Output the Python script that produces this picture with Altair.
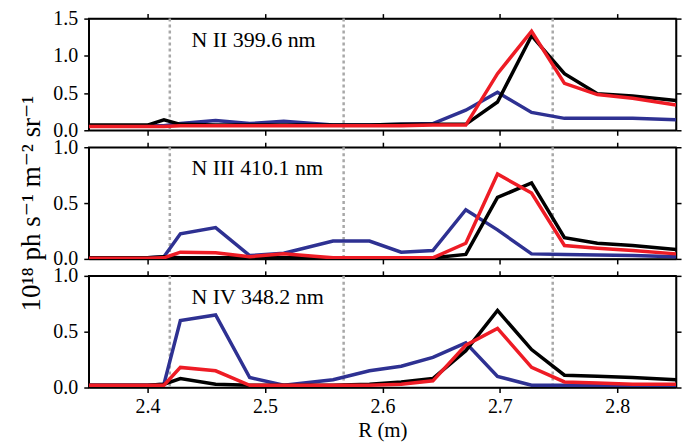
import altair as alt
import pandas as pd

# Major radius grid of the chords (m)
R = [2.35, 2.40, 2.414, 2.428, 2.458, 2.487, 2.516, 2.558, 2.589, 2.616,
     2.643, 2.671, 2.698, 2.727, 2.755, 2.783, 2.813, 2.85]

# Panel 1: N II 399.6 nm
nii_black = [0.07, 0.07, 0.14, 0.08, 0.07, 0.07, 0.07, 0.07, 0.07, 0.08,
             0.08, 0.08, 0.38, 1.27, 0.76, 0.49, 0.46, 0.40]
nii_red = [0.05, 0.05, 0.05, 0.06, 0.06, 0.06, 0.06, 0.06, 0.06, 0.06,
           0.07, 0.07, 0.76, 1.33, 0.63, 0.48, 0.43, 0.34]
nii_blue = [0.06, 0.06, 0.06, 0.09, 0.13, 0.09, 0.12, 0.07, 0.07, 0.08,
            0.09, 0.27, 0.51, 0.24, 0.16, 0.16, 0.16, 0.14]

# Panel 2: N III 410.1 nm
niii_black = [0.01, 0.01, 0.02, 0.01, 0.01, 0.01, 0.01, 0.01, 0.01, 0.01,
              0.01, 0.04, 0.55, 0.68, 0.19, 0.14, 0.12, 0.085]
niii_red = [0.005, 0.005, 0.01, 0.06, 0.055, 0.02, 0.045, 0.01, 0.01, 0.01,
            0.01, 0.14, 0.76, 0.59, 0.12, 0.095, 0.075, 0.045]
niii_blue = [0.01, 0.01, 0.02, 0.225, 0.28, 0.03, 0.05, 0.16, 0.16, 0.06,
             0.075, 0.44, 0.26, 0.045, 0.04, 0.035, 0.03, 0.02]

# Panel 3: N IV 348.2 nm
niv_black = [0.02, 0.02, 0.03, 0.08, 0.03, 0.02, 0.02, 0.02, 0.03, 0.05,
             0.08, 0.33, 0.69, 0.34, 0.11, 0.10, 0.09, 0.07]
niv_red = [0.02, 0.02, 0.02, 0.18, 0.15, 0.02, 0.02, 0.02, 0.02, 0.03,
           0.06, 0.38, 0.53, 0.18, 0.05, 0.04, 0.03, 0.03]
niv_blue = [0.02, 0.02, 0.03, 0.60, 0.65, 0.09, 0.02, 0.07, 0.15, 0.19,
            0.27, 0.40, 0.10, 0.02, 0.02, 0.02, 0.02, 0.02]

panel_labels = ["N II 399.6 nm", "N III 410.1 nm", "N IV 348.2 nm"]
panel_ymax = [1.5, 1.0, 1.0]
panel_yticks = [[0.0, 0.5, 1.0, 1.5], [0.0, 0.5, 1.0], [0.0, 0.5, 1.0]]
x_ticks = [2.4, 2.5, 2.6, 2.7, 2.8]
x_domain = [2.35, 2.85]
separatrix_R = [2.419, 2.567, 2.745]

series_names = ["blue case", "black case", "red case"]  # drawing order
series_colors = ["#2e3192", "#000000", "#ee1c25"]
panel_series = [
    [nii_blue, nii_black, nii_red],
    [niii_blue, niii_black, niii_red],
    [niv_blue, niv_black, niv_red],
]

FONT = "'Liberation Serif', 'Times New Roman', 'DejaVu Serif', serif"
W, H = 589, 112


def make_panel(i):
    xs = alt.Scale(domain=x_domain, nice=False, zero=False)
    ys = alt.Scale(domain=[0, panel_ymax[i]], nice=False, zero=True)
    last = i == 2
    if last:
        xaxis = alt.Axis(values=x_ticks, format=".1f", title="R (m)",
                         labelPadding=4, titlePadding=3)
    else:
        xaxis = alt.Axis(values=x_ticks, format=".1f", labels=False, title=None)
    if i == 1:
        yaxis = alt.Axis(values=panel_yticks[i], format=".1f",
                         title="10¹⁸ ph s⁻¹ m⁻² sr⁻¹", titlePadding=7,
                         titleFontSize=27)
    else:
        yaxis = alt.Axis(values=panel_yticks[i], format=".1f", title=None)

    layers = []
    rules = alt.Chart(pd.DataFrame({"R": separatrix_R})).mark_rule(
        color="#a8a8a8", strokeDash=[3, 3], strokeWidth=2.5
    ).encode(x=alt.X("R:Q", scale=xs, axis=None))
    layers.append(rules)

    for k, (name, color) in enumerate(zip(series_names, series_colors)):
        df = pd.DataFrame({"R": R, "value": panel_series[i][k], "series": name})
        if k == 0:
            enc = dict(x=alt.X("R:Q", scale=xs, axis=xaxis),
                       y=alt.Y("value:Q", scale=ys, axis=yaxis))
        else:
            enc = dict(x=alt.X("R:Q", scale=xs, axis=None),
                       y=alt.Y("value:Q", scale=ys, axis=None))
        line = alt.Chart(df).mark_line(
            color=color, strokeWidth=3.5, clip=True, strokeJoin="miter"
        ).encode(**enc)
        layers.append(line)

    # mirrored axes (top / right), ticks only
    df0 = pd.DataFrame({"R": R, "value": panel_series[i][0]})
    mirror = alt.Chart(df0).mark_point(opacity=0).encode(
        x=alt.X("R:Q", scale=xs,
                axis=alt.Axis(orient="top", values=x_ticks, labels=False, title=None)),
        y=alt.Y("value:Q", scale=ys,
                axis=alt.Axis(orient="right", values=panel_yticks[i], labels=False, title=None)),
    )
    layers.append(mirror)

    label = alt.Chart(pd.DataFrame({"t": [panel_labels[i]]})).mark_text(
        align="left", baseline="middle", font=FONT, fontSize=22, color="black"
    ).encode(x=alt.value(103), y=alt.value(21), text="t:N")
    layers.append(label)

    return alt.layer(*layers).resolve_axis(x="independent", y="independent").properties(
        width=W, height=H
    )


chart = alt.vconcat(
    make_panel(0), make_panel(1), make_panel(2), spacing=17, bounds="flush"
).properties(
    padding={"left": 9, "top": -1, "right": 5, "bottom": 0}
).configure_view(
    stroke="black", strokeWidth=1.5
).configure_axis(
    grid=False, domainColor="black", domainWidth=1.5, tickColor="black",
    tickWidth=1.5, tickSize=5, labelFont=FONT, labelFontSize=20,
    labelColor="black", labelPadding=6, titleFont=FONT, titleFontSize=21,
    titleFontWeight="normal", titleColor="black"
)

chart.save("out.html", embed_options={"renderer": "svg", "actions": False})
